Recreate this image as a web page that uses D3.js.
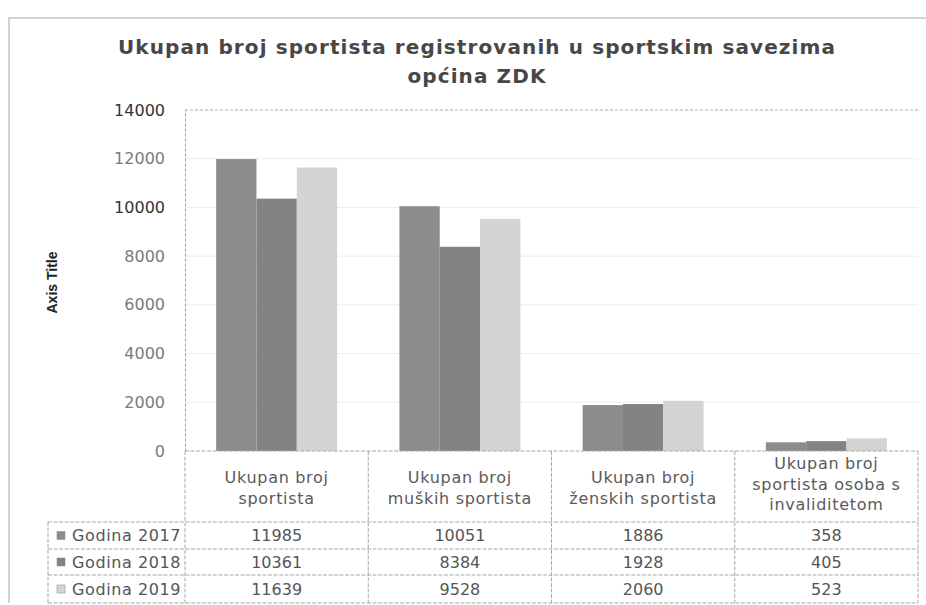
<!DOCTYPE html>
<html>
<head>
<meta charset="utf-8">
<script src="https://cdn.jsdelivr.net/npm/d3@7"></script>
<style>
    body { margin: 0; background: #fff; }
    svg { display: block; }
</style>
</head>
<body>
<svg id="chart" width="926" height="605"></svg>
<script>
// data
const categories = [
    ["Ukupan broj", "sportista"],
    ["Ukupan broj", "muških sportista"],
    ["Ukupan broj", "ženskih sportista"],
    ["Ukupan broj", "sportista  osoba s", "invaliditetom"]
];
const series = ["Godina 2017", "Godina 2018", "Godina 2019"];
const values2017 = [11985, 10051, 1886, 358];
const values2018 = [10361, 8384, 1928, 405];
const values2019 = [11639, 9528, 2060, 523];
const yTicks = [0, 2000, 4000, 6000, 8000, 10000, 12000, 14000];
const colors = ["#8c8c8c", "#838383", "#d4d4d4"];

const title = ["Ukupan broj sportista registrovanih u sportskim savezima", "općina ZDK"];

class BarChart {
    constructor(selector) {
        this.svg = d3.select(selector);
        this.font = "'DejaVu Sans', sans-serif";
        this.plot = {left: 185, right: 918, top: 110, bottom: 451};
        this.table = {left: 48, rowTops: [522, 549, 575], bottom: 603};
    }

    setup_scales() {
        let p = this.plot;
        this.x0 = d3.scaleBand()
            .domain(d3.range(categories.length))
            .range([p.left, p.right])
            .paddingInner(0.34)
            .paddingOuter(0.17);
        this.x1 = d3.scaleBand()
            .domain(series)
            .range([0, this.x0.bandwidth()]);
        this.y = d3.scaleLinear()
            .domain([0, 14000])
            .range([p.bottom, p.top]);
        this.colour = d3.scaleOrdinal().domain(series).range(colors);
        // cell edges for the data table
        this.cell = d3.scaleBand()
            .domain(d3.range(categories.length))
            .range([p.left, p.right]);
    }

    draw_frame() {
        // outer chart border (only top and left show in the scan)
        this.svg.append("path")
            .attr("d", "M 9 603 L 9 18 L 926 18")
            .attr("fill", "none")
            .attr("stroke", "#c4c4c4")
            .attr("stroke-width", 1.5);

        this.svg.append("text")
            .attr("x", 477)
            .attr("y", 54)
            .attr("text-anchor", "middle")
            .style("font-family", this.font)
            .style("font-weight", "bold")
            .style("font-size", "20px")
            .style("letter-spacing", "1.1px")
            .attr("fill", "#474747")
            .selectAll("tspan")
            .data(title)
            .enter()
            .append("tspan")
            .attr("x", 477)
            .attr("dy", function (d, i) {
                return i === 0 ? 0 : 29;
            })
            .text(function (d) {
                return d;
            });
    }

    draw_axis() {
        let _this = this;
        let p = this.plot;

        let grid = this.svg.append("g").attr("class", "grid");
        grid.selectAll("line")
            .data(yTicks.filter(function (t) { return t > 0; }))
            .enter()
            .append("line")
            .attr("x1", p.left)
            .attr("x2", p.right)
            .attr("y1", function (d) { return _this.y(d); })
            .attr("y2", function (d) { return _this.y(d); })
            .attr("stroke", function (d) { return d === 14000 ? "#b0b0b0" : "#ececec"; })
            .attr("stroke-dasharray", function (d) { return d === 14000 ? "3,2" : null; });

        let axis = this.svg.append("g")
            .attr("transform", "translate(" + p.left + ",0)")
            .call(d3.axisLeft(this.y)
                .tickValues(yTicks)
                .tickFormat(d3.format("d"))
                .tickSize(0)
                .tickPadding(20));
        axis.select(".domain")
            .attr("stroke", "#9a9a9a")
            .attr("stroke-dasharray", "3,2");
        axis.selectAll("text")
            .style("font-family", this.font)
            .style("font-size", "16px")
            .attr("fill", function (d) {
                return (d === 14000 || d === 10000) ? "#333" : "#7a7a7a";
            });

        this.svg.append("text")
            .attr("transform", "translate(57," + ((p.top + p.bottom) / 2 + 2) + ") rotate(-90)")
            .attr("text-anchor", "middle")
            .style("font-family", "'Liberation Sans Narrow', 'Liberation Sans', sans-serif")
            .style("font-weight", "bold")
            .style("font-size", "14px")
            .attr("fill", "#222")
            .text("Axis Title");
    }

    draw_bars() {
        let _this = this;
        let all = [values2017, values2018, values2019];
        let groups = this.svg.append("g").attr("class", "bars")
            .selectAll("g")
            .data(categories)
            .enter()
            .append("g")
            .attr("transform", function (d, i) {
                return "translate(" + _this.x0(i) + ",0)";
            });

        groups.selectAll("rect")
            .data(function (d, i) {
                return series.map(function (s, k) {
                    return {series: s, value: all[k][i]};
                });
            })
            .enter()
            .append("rect")
            .attr("x", function (d) { return _this.x1(d.series); })
            .attr("y", function (d) { return _this.y(d.value); })
            .attr("width", this.x1.bandwidth())
            .attr("height", function (d) { return _this.y(0) - _this.y(d.value); })
            .attr("fill", function (d) { return _this.colour(d.series); });
    }

    draw_table() {
        let _this = this;
        let p = this.plot;
        let t = this.table;
        let all = [values2017, values2018, values2019];
        let g = this.svg.append("g").attr("class", "table");
        let lineColour = "#a8a8a8";

        // vertical cell edges
        let edges = d3.range(categories.length + 1).map(function (i) {
            return i < categories.length ? _this.cell(i) : p.right;
        });
        g.selectAll(".vline")
            .data(edges)
            .enter()
            .append("line")
            .attr("class", "vline")
            .attr("x1", function (d) { return d; })
            .attr("x2", function (d) { return d; })
            .attr("y1", p.bottom)
            .attr("y2", t.bottom)
            .attr("stroke", lineColour)
            .attr("stroke-dasharray", "4,1.5");

        g.append("line")
            .attr("x1", t.left).attr("x2", t.left)
            .attr("y1", t.rowTops[0]).attr("y2", t.bottom)
            .attr("stroke", lineColour)
            .attr("stroke-dasharray", "4,1.5");

        // horizontal cell edges
        g.append("line")
            .attr("x1", p.left).attr("x2", p.right)
            .attr("y1", p.bottom).attr("y2", p.bottom)
            .attr("stroke", lineColour)
            .attr("stroke-dasharray", "4,1.5");
        g.selectAll(".hline")
            .data(t.rowTops.concat([t.bottom]))
            .enter()
            .append("line")
            .attr("class", "hline")
            .attr("x1", t.left)
            .attr("x2", p.right)
            .attr("y1", function (d) { return d; })
            .attr("y2", function (d) { return d; })
            .attr("stroke", lineColour)
            .attr("stroke-dasharray", "4,1.5");

        // category headers
        let header = g.selectAll(".header")
            .data(categories)
            .enter()
            .append("text")
            .attr("class", "header")
            .attr("text-anchor", "middle")
            .style("font-family", this.font)
            .style("font-size", "16px")
            .style("letter-spacing", "0.7px")
            .attr("fill", "#5a5a5a")
            .attr("y", function (d) {
                return d.length === 3 ? 469 : 483;
            });
        header.selectAll("tspan")
            .data(function (d, i) {
                return d.map(function (line) {
                    return {line: line, col: i};
                });
            })
            .enter()
            .append("tspan")
            .attr("x", function (d) {
                return _this.cell(d.col) + _this.cell.bandwidth() / 2;
            })
            .attr("dy", function (d, i) { return i === 0 ? 0 : 20.5; })
            .text(function (d) { return d.line; });

        // one row per series
        let rowH = function (i) {
            let next = i + 1 < t.rowTops.length ? t.rowTops[i + 1] : t.bottom;
            return next - t.rowTops[i];
        };
        let rows = g.selectAll(".row")
            .data(series)
            .enter()
            .append("g")
            .attr("class", "row")
            .attr("transform", function (d, i) {
                return "translate(0," + (t.rowTops[i] + rowH(i) / 2) + ")";
            });

        rows.append("rect")
            .attr("x", 57)
            .attr("y", -4)
            .attr("width", 8)
            .attr("height", 8)
            .attr("fill", function (d) { return _this.colour(d); })
            .attr("stroke", "#888")
            .attr("stroke-width", 0.5);

        rows.append("text")
            .attr("x", 72)
            .attr("dy", "0.36em")
            .style("font-family", this.font)
            .style("font-size", "16px")
            .style("letter-spacing", "0.6px")
            .attr("fill", "#555")
            .text(function (d) { return d; });

        rows.selectAll(".value")
            .data(function (d, k) { return all[k]; })
            .enter()
            .append("text")
            .attr("class", "value")
            .attr("x", function (d, i) {
                return _this.cell(i) + _this.cell.bandwidth() / 2;
            })
            .attr("dy", "0.36em")
            .attr("text-anchor", "middle")
            .style("font-family", this.font)
            .style("font-size", "16px")
            .attr("fill", "#555")
            .text(function (d) { return d; });
    }

    draw() {
        this.setup_scales();
        this.draw_frame();
        this.draw_axis();
        this.draw_bars();
        this.draw_table();
    }
}

let chart = new BarChart("#chart");
chart.draw();
</script>
</body>
</html>
